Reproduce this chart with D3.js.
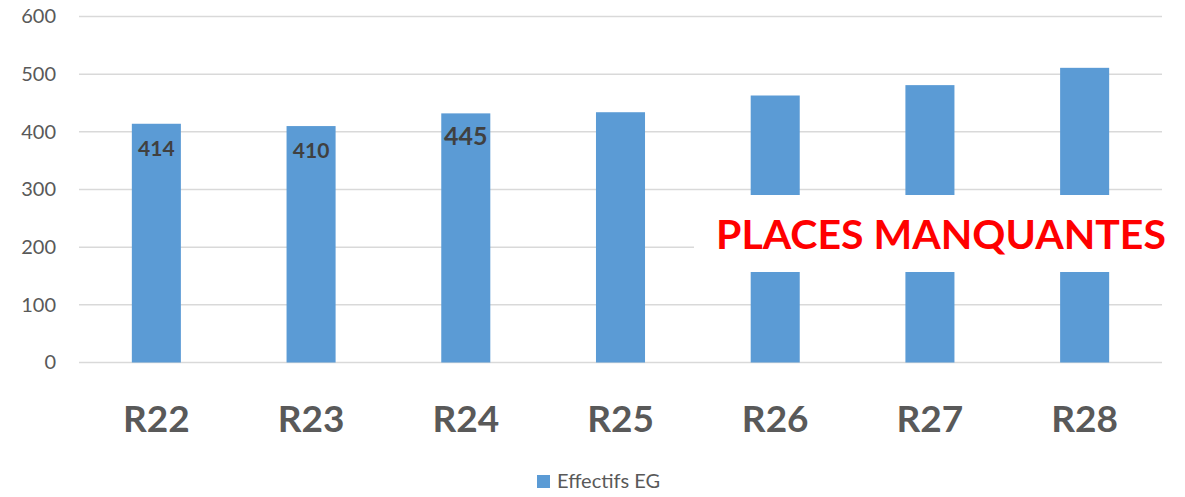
<!DOCTYPE html>
<html><head><meta charset="utf-8">
<script src="https://cdn.jsdelivr.net/npm/d3@7"></script>
<style>html,body{margin:0;padding:0;background:#fff;}svg{display:block;font-family:Lato,"Open Sans",sans-serif;}</style>
</head><body><div id="chart"></div>
<script>
const categories = ["R22","R23","R24","R25","R26","R27","R28"];
const values = [414, 410, 432, 434, 463, 481, 511];
const valueLabels = ["414","410","445","","","",""];
const yTicks = [0,100,200,300,400,500,600];
const seriesName = "Effectifs EG";
const overlayText = "PLACES MANQUANTES";

const W = 1185, H = 497;
const m = {left:79, right:23, top:16.5, bottom:134.5};
const svg = d3.select("#chart").append("svg").attr("width",W).attr("height",H);

const x = d3.scaleBand().domain(categories).range([m.left, W-m.right]).paddingInner(0.683).paddingOuter(0.3415);
const y = d3.scaleLinear().domain([0,600]).range([H-m.bottom, m.top]);

// gridlines
svg.append("g").selectAll("line").data(yTicks).join("line")
  .attr("x1", m.left).attr("x2", W-m.right)
  .attr("y1", d=>y(d)).attr("y2", d=>y(d))
  .attr("stroke","#d9d9d9").attr("stroke-width",1.5);

// y axis labels
const yAxis = d3.axisLeft(y).tickValues(yTicks).tickSize(0).tickPadding(0);
const ya = svg.append("g").attr("transform",`translate(56,0)`).call(yAxis);
ya.select(".domain").remove();
ya.selectAll("text").attr("font-size",20).attr("fill","#595959").attr("font-family","Lato, sans-serif");

// bars
svg.append("g").selectAll("rect").data(categories).join("rect")
  .attr("x", d=>x(d)).attr("width", x.bandwidth())
  .attr("y", (d,i)=>y(values[i])).attr("height",(d,i)=>y(0)-y(values[i]))
  .attr("fill","#5B9BD5");

// value labels
svg.append("g").selectAll("text").data(categories).join("text")
  .attr("x", d=>x(d)+x.bandwidth()/2)
  .attr("y", (d,i)=>y(values[i])+32)
  .attr("text-anchor","middle")
  .attr("font-weight","bold")
  .attr("font-size",(d,i)=> i===2?25:21)
  .attr("fill","#404040")
  .text((d,i)=>valueLabels[i]);

// category axis labels
const xAxis = d3.axisBottom(x).tickSize(0).tickPadding(0);
const xa = svg.append("g").attr("transform",`translate(0,${y(0)})`).call(xAxis);
xa.select(".domain").remove();
xa.selectAll("text").attr("dy",null).attr("y",69).attr("font-size",37).attr("font-weight","bold").attr("fill","#595959").attr("font-family","Lato, sans-serif");

// overlay box
svg.append("rect").attr("x",694).attr("y",195).attr("width",W-694).attr("height",77).attr("fill","#fff");
svg.append("text").attr("x",941).attr("y",249).attr("text-anchor","middle")
  .attr("font-size",41).attr("font-weight","bold").attr("fill","#FF0000").text(overlayText);

// legend
const lg = svg.append("g");
lg.append("rect").attr("x",537).attr("y",475).attr("width",13).attr("height",13).attr("fill","#5B9BD5");
lg.append("text").attr("x",557).attr("y",488).attr("font-size",20).attr("fill","#595959").text(seriesName);
</script></body></html>
